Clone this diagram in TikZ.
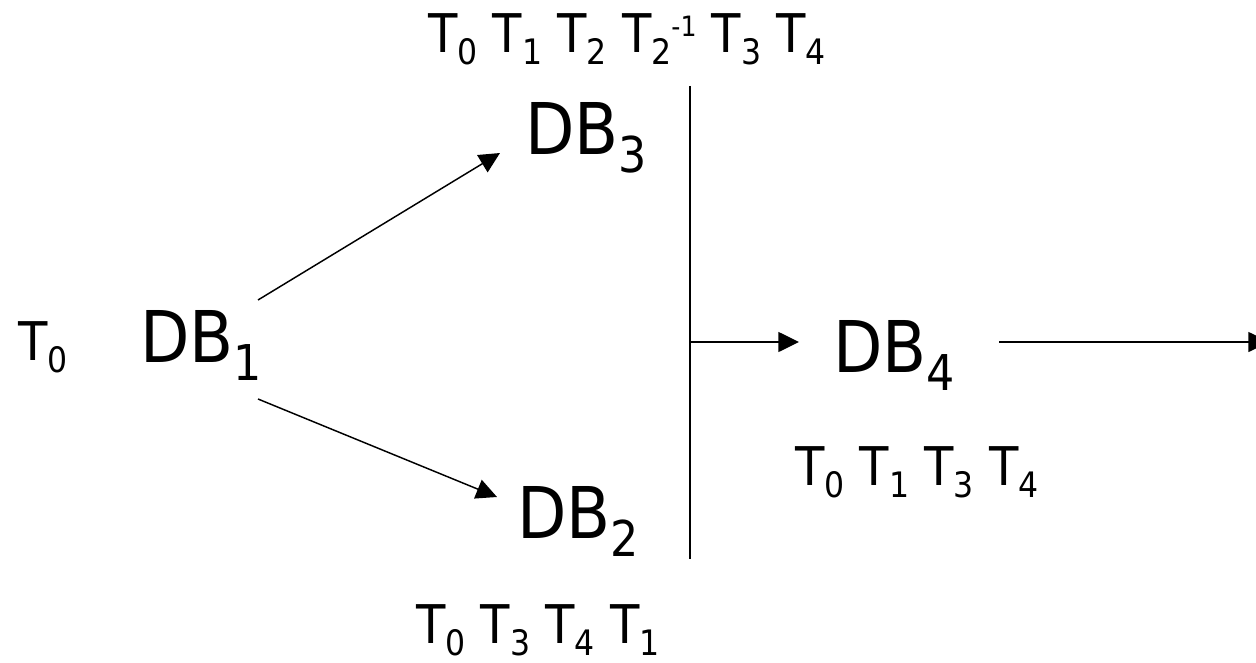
\documentclass[tikz,border=0pt]{standalone}
\usepackage{fontspec}
\setmainfont{DejaVu Sans Condensed}
\usetikzlibrary{arrows.meta}
\newcommand\Ts[1]{T\raisebox{-9pt}{\fontsize{26.3pt}{27pt}\selectfont #1}}
\newcommand\Tsup{\raisebox{12pt}{\fontsize{21pt}{21pt}\selectfont -1}}
\newcommand\DBs[1]{DB\raisebox{-13.5pt}{\fontsize{37pt}{37pt}\selectfont #1}}
\tikzset{
  lbl/.style={anchor=base west, inner sep=0pt, font=\fontsize{40pt}{41pt}\selectfont},
  db/.style={anchor=base west, inner sep=0pt, font=\fontsize{53.5pt}{54pt}\selectfont},
  conn/.style={line width=1.1pt, black},
  arr/.style={conn, -{Triangle[length=15.5pt,width=15pt]}}
}
\begin{document}
\begin{tikzpicture}[x=0.75pt,y=-0.75pt]
\useasboundingbox (0,0) rectangle (1256,663);
\clip (0,0) rectangle (1256,663);
% nodes
\node[lbl] (top) at (428,53) {\Ts{0} \Ts{1} \Ts{2} \Ts{2}\Tsup{} \Ts{3} \Ts{4}};
\node[db] (db3) at (525,155) {\DBs{3}};
\node[lbl] (t0) at (18,360) {\Ts{0}};
\node[db] (db1) at (140,362) {\DBs{1}};
\node[db] (db4) at (833,372) {\DBs{4}};
\node[lbl] (l4) at (795,485) {\Ts{0} \Ts{1} \Ts{3} \Ts{4}};
\node[db] (db2) at (517,538) {\DBs{2}};
\node[lbl] (l2) at (416,643) {\Ts{0} \Ts{3} \Ts{4} \Ts{1}};
% connector ends
\coordinate (s13) at (258,300);
\coordinate (e13) at (500,153);
\coordinate (s12) at (258,399);
\coordinate (e12) at (497,497);
\coordinate (vt) at (690,86);
\coordinate (vb) at (690,559);
\coordinate (vm) at (690,342);
\coordinate (e4) at (799,342);
\coordinate (o4) at (999,342);
\coordinate (out) at (1269,342);
% connectors
\draw[arr] (s13) -- (e13);
\draw[arr] (s12) -- (e12);
\draw[conn] (vt) -- (vb);
\draw[arr] (vm) -- (e4);
\draw[arr] (o4) -- (out);
\end{tikzpicture}
\end{document}
